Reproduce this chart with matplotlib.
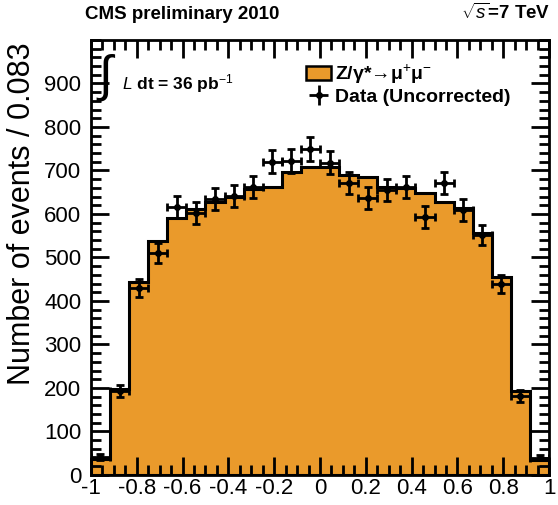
''' Z -> mumu angular distribution, MC vs data '''
import numpy as np
import matplotlib.pyplot as plt
from matplotlib.patches import Patch
from matplotlib.ticker import MultipleLocator

plt.rcParams['font.family'] = ['Liberation Sans', 'DejaVu Sans']
plt.rcParams['mathtext.fontset'] = 'custom'
plt.rcParams['mathtext.rm'] = 'Liberation Sans'
plt.rcParams['mathtext.it'] = 'Liberation Sans:italic'
plt.rcParams['mathtext.bf'] = 'Liberation Sans:bold'

# 24 bins between -1 and 1
bin_edges = np.linspace(-1, 1, 25)
mc_counts = [37, 197, 444, 538, 590, 612, 628, 640, 658, 662, 697, 708,
             708, 690, 685, 662, 660, 648, 627, 614, 556, 455, 193, 34]
data_counts = [42, 192, 430, 510, 616, 602, 634, 641, 662, 720, 722, 750,
               718, 671, 637, 655, 662, 593, 671, 609, 552, 439, 182, 40]

orange = '#EA9A2B'

fig = plt.figure(figsize=(5.58, 5.05), dpi=100)
ax = fig.add_axes([0.163, 0.0594, 0.821, 0.8616])

centers = 0.5 * (bin_edges[:-1] + bin_edges[1:])
half_w = 0.5 * (bin_edges[1] - bin_edges[0])

# MC histogram, filled with outline
ax.hist(centers, bins=bin_edges, weights=mc_counts, histtype='stepfilled',
        facecolor=orange, edgecolor='black', linewidth=2.2, zorder=1)

# data points with sqrt(N) errors
ax.errorbar(centers, data_counts, yerr=np.sqrt(data_counts), xerr=half_w,
            fmt='o', color='black', markersize=4, elinewidth=2,
            capsize=3, capthick=2, zorder=3)

ax.set_xlim(-1, 1)
ax.set_ylim(0, 1000)
ax.xaxis.set_minor_locator(MultipleLocator(0.05))
ax.yaxis.set_minor_locator(MultipleLocator(20))
ax.set_yticks(np.arange(0, 1000, 100))
ax.set_xticks(np.arange(-1, 1.01, 0.2))
ax.set_xticklabels(['-1', '-0.8', '-0.6', '-0.4', '-0.2', '0',
                    '0.2', '0.4', '0.6', '0.8', '1'])

ax.tick_params(which='both', direction='in', top=True, right=True,
               width=2, labelsize=16, colors='black')
ax.tick_params(which='major', length=13)
ax.tick_params(which='minor', length=7)
ax.tick_params(axis='x', pad=2)
ax.tick_params(axis='y', pad=7)
for s in ax.spines.values():
    s.set_linewidth(2)

ax.set_ylabel('Number of events / 0.083', fontsize=22)
ax.yaxis.set_label_coords(-0.118, 0.6)

fig.text(0.152, 0.955, 'CMS preliminary 2010', fontsize=13.5,
         fontweight='bold', ha='left', va='bottom')
fig.text(0.986, 0.955, r'$\sqrt{s}$=7 TeV', fontsize=13.5,
         fontweight='bold', ha='right', va='bottom')

ax.text(0.012, 0.972, r'$\int$', transform=ax.transAxes, fontsize=36,
        ha='left', va='top')
ax.text(0.068, 0.9, r'$L$ dt = 36 pb$^{-1}$', transform=ax.transAxes,
        fontsize=12.5, fontweight='bold', ha='left', va='center')

handles = [Patch(facecolor=orange, edgecolor='black', linewidth=1.8),
           ax.errorbar([], [], xerr=[], yerr=[], fmt='o', color='black',
                       markersize=4, elinewidth=2)]
labels = ['Z/γ*→μ$^{+}$μ$^{-}$', 'Data (Uncorrected)']
leg = ax.legend(handles, labels, loc='upper left',
                bbox_to_anchor=(0.44, 0.978), frameon=False, fontsize=14,
                handlelength=1.3, handletextpad=0.2, labelspacing=0.1,
                borderpad=0.2)
for t in leg.get_texts():
    t.set_fontweight('bold')

fig.savefig('out.png', dpi=100)
